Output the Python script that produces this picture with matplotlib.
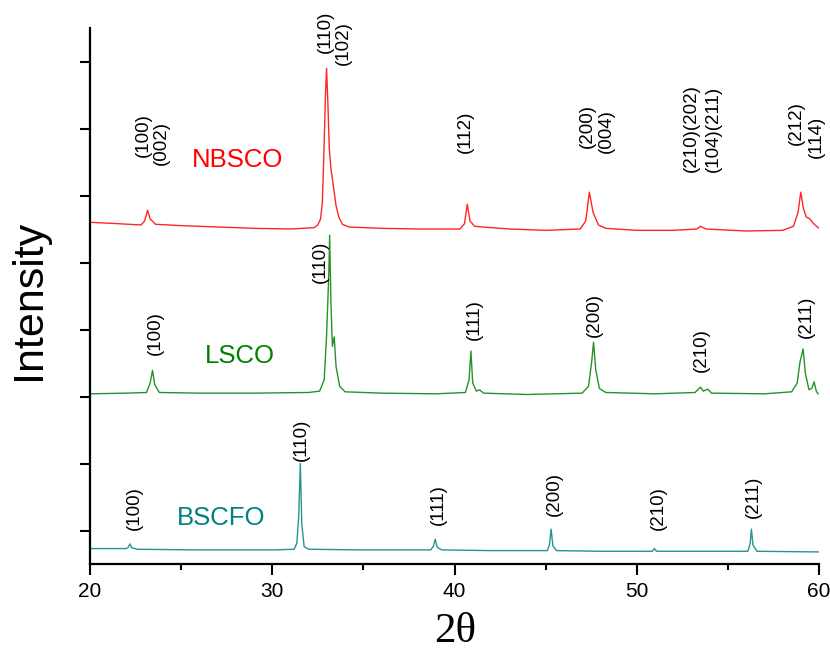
import matplotlib

matplotlib.use("Agg")
import matplotlib.pyplot as plt
from matplotlib.ticker import MultipleLocator

# --------------------------------------------------------------------------- #
# Data (2-theta in degrees, intensity in arbitrary offset units)
# --------------------------------------------------------------------------- #
nbsco_tt = [20.0, 21.5, 22.8, 23.0, 23.16, 23.3, 23.6, 25.0, 27.0, 29.0, 31.0, 32.3,
            32.5, 32.65, 32.75, 32.84, 32.92, 32.98, 33.05, 33.13, 33.22, 33.35, 33.5,
            33.65, 33.85, 34.2, 36.0, 38.0,
            40.3, 40.55, 40.7, 40.85, 41.1, 43.0, 45.0, 46.9, 47.2, 47.4, 47.6, 47.9,
            48.3, 50.0, 52.0, 53.3, 53.5, 53.8, 56.0, 58.0, 58.6, 58.85, 59.0, 59.15,
            59.3, 59.5, 59.7, 60.0]
nbsco_int = [5.10, 5.08, 5.06, 5.12, 5.28, 5.15, 5.07, 5.05, 5.03, 5.01, 5.00, 5.02,
             5.06, 5.15, 5.40, 6.20, 7.00, 7.40, 6.90, 6.20, 5.90, 5.65, 5.35,
             5.18, 5.07, 5.03, 5.01, 5.00,
             5.00, 5.08, 5.37, 5.12, 5.04, 5.00, 4.98, 5.00, 5.12, 5.55, 5.25, 5.06,
             5.01, 4.98, 4.98, 5.00, 5.04, 5.00, 4.97, 4.98, 5.04, 5.25, 5.55, 5.30,
             5.18, 5.15, 5.08, 5.01]

lsco_tt = [20.0, 22.0, 23.1, 23.3, 23.43, 23.55, 23.8, 26.0, 29.0, 32.0, 32.6, 32.85,
           32.98, 33.1, 33.15, 33.22, 33.3, 33.4, 33.5, 33.7, 34.0, 36.0, 39.0, 40.6,
           40.8, 40.9, 41.0, 41.2, 41.37, 41.6, 44.0, 47.0, 47.35, 47.52, 47.63, 47.75,
           47.95, 48.3, 51.0, 53.2, 53.5, 53.65, 53.9, 54.1, 57.0, 58.5, 58.8, 58.96,
           59.13, 59.25, 59.45, 59.6, 59.73, 59.85, 59.95]
lsco_int = [2.54, 2.55, 2.56, 2.70, 2.89, 2.68, 2.56, 2.55, 2.55, 2.56, 2.58, 2.75,
            3.40, 4.30, 4.91, 3.90, 3.25, 3.39, 2.95, 2.65, 2.57, 2.55, 2.54, 2.56,
            2.75, 3.18, 2.70, 2.58, 2.60, 2.55, 2.53, 2.55, 2.65, 3.00, 3.31, 2.90,
            2.62, 2.56, 2.54, 2.56, 2.64, 2.58, 2.61, 2.55, 2.54, 2.57, 2.70, 3.02,
            3.21, 2.85, 2.60, 2.62, 2.72, 2.58, 2.54]

bscfo_tt = [20.0, 22.0, 22.1, 22.19, 22.3, 22.6, 26.0, 30.0, 31.2, 31.35, 31.45, 31.54,
            31.62, 31.75, 32.0, 35.0, 38.7, 38.85, 38.94, 39.05, 39.3, 42.0, 45.1,
            45.22, 45.30, 45.40, 45.6, 48.0, 50.85, 50.96, 51.1, 54.0, 56.1, 56.22,
            56.29, 56.38, 56.6, 60.0]
bscfo_int = [0.23, 0.23, 0.25, 0.30, 0.24, 0.22, 0.21, 0.21, 0.22, 0.31, 0.70, 1.50,
             0.60, 0.26, 0.22, 0.21, 0.21, 0.27, 0.37, 0.25, 0.21, 0.20, 0.20,
             0.30, 0.52, 0.27, 0.20, 0.19, 0.19, 0.23, 0.19, 0.19, 0.19, 0.30,
             0.52, 0.28, 0.19, 0.18]

# Miller-index annotations (one text column each)
hkl_text = ["(100)", "(002)", "(110)", "(102)", "(112)", "(200)", "(004)",
            "(210)(202)", "(104)(211)", "(212)", "(114)",
            "(100)", "(110)", "(111)", "(200)", "(210)", "(211)",
            "(100)", "(110)", "(111)", "(200)", "(210)", "(211)"]
hkl_x = [22.92, 23.93, 32.93, 33.88, 40.58, 47.29, 48.31, 53.01, 54.20, 58.77, 59.83,
         23.57, 32.62, 41.09, 47.67, 53.56, 59.29,
         22.41, 31.62, 39.11, 45.48, 51.18, 56.40]
hkl_y = [6.07, 5.96, 7.63, 7.45, 6.13, 6.21, 6.13, 5.85, 5.85, 6.25, 6.06,
         3.12, 4.19, 3.34, 3.39, 2.86, 3.37,
         0.50, 1.53, 0.58, 0.71, 0.51, 0.68]

samples = ["NBSCO", "LSCO", "BSCFO"]
sample_x = [28.1, 28.2, 27.2]
sample_y = [6.03, 3.10, 0.69]
colors = ["#FF0000", "#008000", "#008080"]

# --------------------------------------------------------------------------- #
# Plot
# --------------------------------------------------------------------------- #
plt.rcParams["font.family"] = ["Liberation Sans", "DejaVu Sans"]

fig = plt.figure(figsize=(8.3, 6.5), dpi=100)
ax = fig.add_axes([90 / 830, 86 / 650, 729 / 830, 536 / 650])

for tt, inten, c in zip([nbsco_tt, lsco_tt, bscfo_tt],
                        [nbsco_int, lsco_int, bscfo_int], colors):
    ax.plot(tt, inten, color=c, lw=1.0, alpha=0.85)

for name, x, y, c in zip(samples, sample_x, sample_y, colors):
    ax.text(x, y, name, color=c, fontsize=18.5, ha="center", va="center")

for t, x, y in zip(hkl_text, hkl_x, hkl_y):
    ax.text(x, y, t, rotation=90, ha="center", va="bottom", fontsize=13.5, color="black")

ax.set_xlim(20, 60)
ax.set_ylim(0, 8)
ax.xaxis.set_major_locator(MultipleLocator(10))
ax.xaxis.set_minor_locator(MultipleLocator(5))
ax.set_yticks([0.5, 1.5, 2.5, 3.5, 4.5, 5.5, 6.5, 7.5])
ax.set_yticklabels([])
ax.tick_params(axis="x", which="major", length=8, width=1.5, labelsize=15, pad=5)
ax.tick_params(axis="x", which="minor", length=4.5, width=1.5)
ax.tick_params(axis="y", which="major", length=7.5, width=1.5)

for side in ["top", "right"]:
    ax.spines[side].set_visible(False)
for side in ["left", "bottom"]:
    ax.spines[side].set_linewidth(1.6)

fig.text(29 / 830, 1 - 300 / 650, "Intensity", rotation=90, fontsize=31,
         ha="center", va="center")
fig.text(455 / 830, 1 - 632 / 650, "2\u03b8", fontsize=31, family="Liberation Serif",
         ha="center", va="center")

fig.savefig("out.png", dpi=100)
